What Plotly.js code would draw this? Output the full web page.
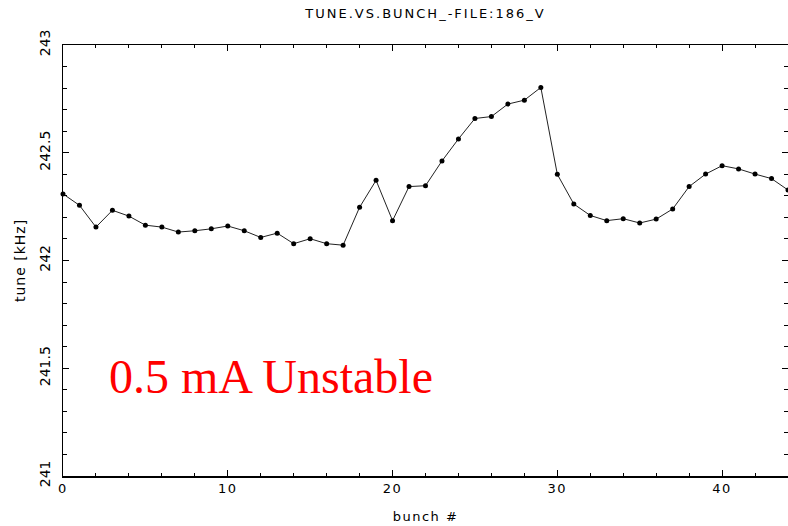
<!DOCTYPE html>
<html>
<head>
<meta charset="utf-8">
<script src="https://cdn.plot.ly/plotly-3.0.1.min.js"></script>
<style>
html,body{margin:0;padding:0;background:#fff;}
#chart{width:788px;height:526px;}
#chart .gtitle{letter-spacing:2px;}
#chart .xtitle{letter-spacing:1.5px;}
#chart .ytitle{letter-spacing:1px;}
#chart .xtick text{letter-spacing:1.5px;}
</style>
</head>
<body>
<div id="chart"></div>
<script>
const bunch = [0,1,2,3,4,5,6,7,8,9,10,11,12,13,14,15,16,17,18,19,20,21,22,23,24,25,26,27,28,29,30,31,32,33,34,35,36,37,38,39,40,41,42,43,44];
const tune = [242.309, 242.256, 242.155, 242.233, 242.206, 242.164, 242.155, 242.132, 242.138, 242.147,
              242.160, 242.138, 242.107, 242.127, 242.078, 242.101, 242.078, 242.071, 242.247, 242.372,
              242.185, 242.343, 242.347, 242.462, 242.564, 242.659, 242.668, 242.726, 242.744, 242.803,
              242.400, 242.262, 242.209, 242.185, 242.194, 242.174, 242.192, 242.239, 242.343, 242.401,
              242.440, 242.425, 242.401, 242.380, 242.327];
const titleText = "TUNE.VS.BUNCH_-FILE:186_V";
const xTitle = "bunch #";
const yTitle = "tune [kHz]";
const noteText = "0.5 mA Unstable";

const trace = {
  x: bunch, y: tune, type: 'scatter', mode: 'lines+markers',
  line: {color: '#222', width: 1},
  marker: {color: '#000', size: 5, symbol: 'circle'},
  cliponaxis: false, hoverinfo: 'skip'
};

const layout = {
  width: 788, height: 526,
  margin: {l: 63, r: 0, t: 45, b: 50, pad: 0},
  paper_bgcolor: '#fff', plot_bgcolor: '#fff',
  showlegend: false,
  title: {text: titleText, x: 0.54, xanchor: 'center', y: 0.975, yanchor: 'middle',
          font: {family: 'DejaVu Sans', size: 13, color: '#000'}},
  xaxis: {
    range: [0, 44], dtick: 10, tick0: 0, ticks: 'inside', ticklen: 6, tickwidth: 1, tickcolor: '#000',
    minor: {dtick: 2, ticklen: 3, tickcolor: '#000', ticks: 'inside'},
    showline: true, linecolor: '#000', linewidth: 1.5, mirror: 'allticks',
    showgrid: false, zeroline: false,
    tickfont: {family: 'DejaVu Sans', size: 13, color: '#000'},
    title: {text: xTitle, font: {family: 'DejaVu Sans', size: 13, color: '#000'}, standoff: 17}
  },
  yaxis: {
    range: [241, 243], dtick: 0.5, tick0: 241, ticks: 'inside', ticklen: 6, tickwidth: 1, tickcolor: '#000',
    minor: {dtick: 0.1, ticklen: 4, tickcolor: '#000', ticks: 'inside'},
    showline: true, linecolor: '#000', linewidth: 1.5, mirror: 'allticks',
    showgrid: false, zeroline: false, tickangle: -90, ticklabelstandoff: 6,
    tickfont: {family: 'DejaVu Sans', size: 14, color: '#000'},
    title: {text: yTitle, font: {family: 'DejaVu Sans', size: 14, color: '#000'}, standoff: 8}
  },
  annotations: [{
    text: noteText, xref: 'x', yref: 'y', x: 12.6, y: 241.46, xanchor: 'center', yanchor: 'middle',
    showarrow: false, font: {family: 'Liberation Serif', size: 48, color: '#ff0000'}
  }]
};

Plotly.newPlot('chart', [trace], layout, {displayModeBar: false, staticPlot: true});
</script>
</body>
</html>
